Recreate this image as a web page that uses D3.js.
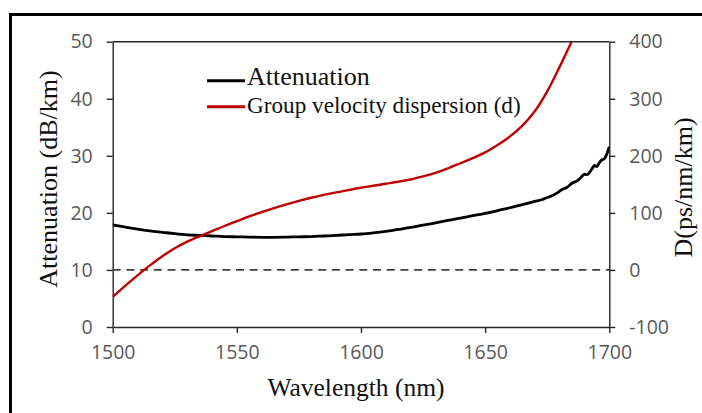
<!DOCTYPE html>
<html>
<head>
<meta charset="utf-8">
<script src="https://cdn.jsdelivr.net/npm/d3@7"></script>
<style>
  html, body { margin: 0; padding: 0; background: #fff; }
  svg { display: block; }
</style>
</head>
<body>
<svg id="chart" width="702" height="413"></svg>
<script>
// ---- data ----
const xTicks = [1500, 1550, 1600, 1650, 1700];
const yLeftTicks = [0, 10, 20, 30, 40, 50];
const yRightTicks = [-100, 0, 100, 200, 300, 400];

const attWavelength = [1500,1505,1510,1515,1520,1525,1530,1535,1540,1545,1550,1555,1560,1565,1570,1575,1580,1585,1590,1595,1600,1605,1610,1615,1620,1625,1630,1635,1640,1645,1650,1655,1660,1665,1670,1673,1675,1677,1679,1681,1683,1685,1687,1689,1690,1691,1693,1694,1695,1696,1697,1698,1699,1700];
const attValues     = [17.9,17.5,17.15,16.85,16.6,16.35,16.15,16.05,15.95,15.85,15.8,15.75,15.72,15.72,15.75,15.8,15.85,15.95,16.05,16.2,16.3,16.5,16.75,17.1,17.45,17.85,18.25,18.7,19.1,19.5,19.9,20.4,20.9,21.45,22.0,22.35,22.7,23.0,23.5,24.1,24.5,25.2,25.6,26.4,26.8,26.7,27.7,28.3,28.1,28.8,29.3,29.5,30.3,31.6];

const gvdWavelength = [1500,1505,1510,1515,1520,1525,1530,1535,1540,1545,1550,1555,1560,1565,1570,1575,1580,1585,1590,1595,1600,1605,1610,1615,1620,1625,1630,1635,1640,1645,1650,1655,1660,1665,1670,1675,1680,1684.8];
const gvdValues     = [-47,-28,-9.5,8,24,38,49.5,59,68,77,85.5,94,101.5,108.5,115,121,126.5,131.5,136,140,144,147.5,151,154.5,158.5,164,170,178,187,196,206,219,234,253,278,313,356,400];

const seriesNames = ["Attenuation", "Group velocity dispersion (d)"];
const seriesColors = ["#000000", "#c00000"];

// ---- layout ----
const svg = d3.select("#chart");
const L = 112.7, R = 609.3, T = 41.7, B = 327;

const x = d3.scaleLinear().domain([1500, 1700]).range([L, R]);
const yL = d3.scaleLinear().domain([0, 50]).range([B, T]);
const yR = d3.scaleLinear().domain([-100, 400]).range([B, T]);

// outer frame (cropped)
svg.append("rect")
  .attr("x", 10.5).attr("y", 14.5)
  .attr("width", 800).attr("height", 500)
  .attr("fill", "none").attr("stroke", "#000").attr("stroke-width", 3);

svg.append("defs").append("clipPath").attr("id", "clip")
  .append("rect").attr("x", L).attr("y", T).attr("width", R - L).attr("height", B - T);

const axisColor = "#262626";
const tickFont = "'Open Sans', sans-serif";
const fmt = d => String(d);

function styleAxis(g) {
  g.selectAll("path.domain").attr("stroke", axisColor).attr("stroke-width", 1.4);
  g.selectAll(".tick line").attr("stroke", axisColor).attr("stroke-width", 1.4);
  g.selectAll(".tick text")
    .attr("fill", "#595959")
    .style("font-family", tickFont)
    .style("font-size", "19.5px");
}

// top frame line
svg.append("line")
  .attr("x1", L).attr("x2", R).attr("y1", T).attr("y2", T)
  .attr("stroke", axisColor).attr("stroke-width", 1.4);

// bottom axis
const gx = svg.append("g").attr("transform", `translate(0,${B})`)
  .call(d3.axisBottom(x).tickValues(xTicks).tickFormat(fmt).tickSizeOuter(0).tickSizeInner(6).tickPadding(12));
styleAxis(gx);

// left axis
const gyl = svg.append("g").attr("transform", `translate(${L},0)`)
  .call(d3.axisLeft(yL).tickValues(yLeftTicks).tickFormat(fmt).tickSizeOuter(0).tickSizeInner(6).tickPadding(14));
styleAxis(gyl);

// right axis
const gyr = svg.append("g").attr("transform", `translate(${R},0)`)
  .call(d3.axisRight(yR).tickValues(yRightTicks).tickFormat(fmt).tickSizeOuter(0).tickSizeInner(6).tickPadding(14));
styleAxis(gyr);

// dashed zero line
svg.append("line")
  .attr("x1", L).attr("x2", R).attr("y1", yR(0)).attr("y2", yR(0))
  .attr("stroke", "#404040").attr("stroke-width", 1.8)
  .attr("stroke-dasharray", "8,5.7");

const plot = svg.append("g").attr("clip-path", "url(#clip)");

const attData = attWavelength.map((w, i) => [w, attValues[i]]);
const gvdData = gvdWavelength.map((w, i) => [w, gvdValues[i]]);

plot.append("path")
  .datum(attData)
  .attr("fill", "none").attr("stroke", seriesColors[0]).attr("stroke-width", 2.8)
  .attr("stroke-linejoin", "round")
  .attr("d", d3.line().x(d => x(d[0])).y(d => yL(d[1])).curve(d3.curveMonotoneX));

plot.append("path")
  .datum(gvdData)
  .attr("fill", "none").attr("stroke", seriesColors[1]).attr("stroke-width", 2.4)
  .attr("stroke-linejoin", "round")
  .attr("d", d3.line().x(d => x(d[0])).y(d => yR(d[1])).curve(d3.curveCatmullRom.alpha(0.5)));

// legend
const serif = "'Liberation Serif', 'Times New Roman', serif";
const legendY = [80.7, 106.7];
const legendSizes = [26, 23.2];
const legendBase = [85, 113];
seriesNames.forEach((name, i) => {
  svg.append("line")
    .attr("x1", 207).attr("x2", 245)
    .attr("y1", legendY[i]).attr("y2", legendY[i])
    .attr("stroke", seriesColors[i]).attr("stroke-width", 3);
  svg.append("text")
    .attr("x", 247).attr("y", legendBase[i])
    .attr("fill", "#111")
    .style("font-family", serif).style("font-size", legendSizes[i] + "px")
    .text(name);
});

// axis titles
svg.append("text")
  .attr("x", (L + R) / 2 - 5).attr("y", 396)
  .attr("text-anchor", "middle").attr("fill", "#111")
  .style("font-family", serif).style("font-size", "25.5px")
  .text("Wavelength (nm)");

svg.append("text")
  .attr("transform", `translate(57,179) rotate(-90)`)
  .attr("text-anchor", "middle").attr("fill", "#111")
  .style("font-family", serif).style("font-size", "26px")
  .text("Attenuation (dB/km)");

svg.append("text")
  .attr("transform", `translate(692,187.5) rotate(-90)`)
  .attr("text-anchor", "middle").attr("fill", "#111")
  .style("font-family", serif).style("font-size", "26px")
  .text("D(ps/nm/km)");
</script>
</body>
</html>
